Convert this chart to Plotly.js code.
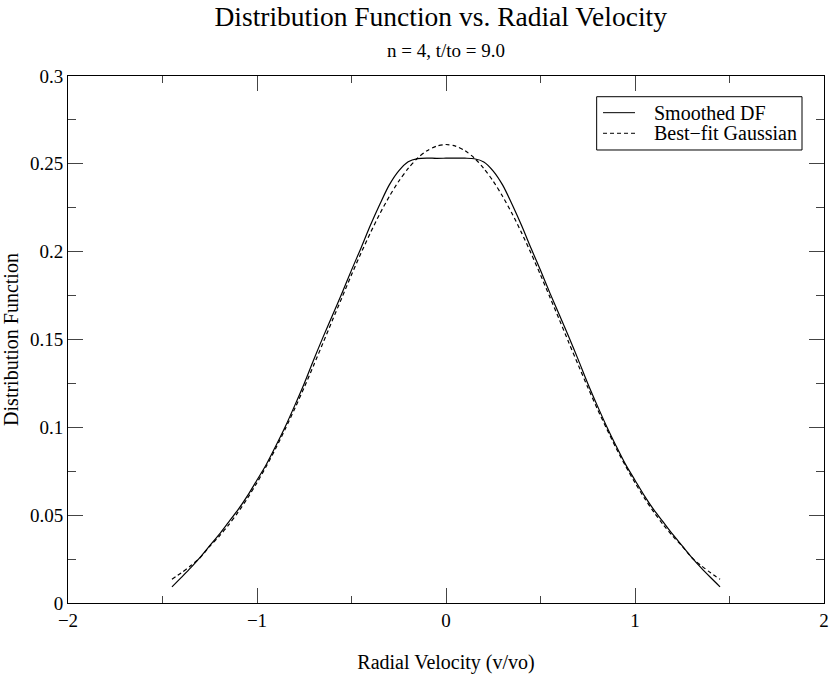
<!DOCTYPE html>
<html>
<head>
<meta charset="utf-8">
<script src="https://cdn.plot.ly/plotly-3.0.1.min.js"></script>
<style>html,body{margin:0;padding:0;background:#fff;}#chart{width:830px;height:674px;}</style>
</head>
<body>
<div id="chart"></div>
<script>
// Radial velocity grid (v/vo)
var velocity = [-1.45,-1.40,-1.35,-1.30,-1.25,-1.20,-1.15,-1.10,-1.05,-1.00,-0.95,-0.90,-0.85,-0.80,-0.75,-0.70,-0.65,-0.60,-0.55,-0.50,-0.45,-0.40,-0.35,-0.30,-0.25,-0.20,-0.15,-0.10,-0.05,0.00,0.05,0.10,0.15,0.20,0.25,0.30,0.35,0.40,0.45,0.50,0.55,0.60,0.65,0.70,0.75,0.80,0.85,0.90,0.95,1.00,1.05,1.10,1.15,1.20,1.25,1.30,1.35,1.40,1.45];

// Smoothed distribution function
var smoothedDF = [0.0092,0.0146,0.0201,0.0261,0.0326,0.0391,0.0461,0.0531,0.0611,0.0700,0.0790,0.0895,0.1005,0.1125,0.1250,0.1385,0.1515,0.1640,0.1765,0.1895,0.2020,0.2150,0.2270,0.2380,0.2460,0.2512,0.2530,0.2533,0.2531,0.2532,0.2533,0.2532,0.2529,0.2511,0.2459,0.2379,0.2269,0.2149,0.2019,0.1894,0.1764,0.1639,0.1514,0.1384,0.1250,0.1125,0.1005,0.0894,0.0789,0.0699,0.0610,0.0530,0.0460,0.0390,0.0325,0.0260,0.0200,0.0145,0.0092];

// Best-fit Gaussian
var gaussianFit = [0.0135,0.0172,0.0213,0.0259,0.0323,0.0380,0.0445,0.0517,0.0597,0.0685,0.0780,0.0882,0.0992,0.1107,0.1228,0.1354,0.1482,0.1612,0.1740,0.1868,0.1991,0.2107,0.2216,0.2314,0.2401,0.2474,0.2533,0.2575,0.2601,0.2610,0.2601,0.2575,0.2533,0.2474,0.2401,0.2314,0.2216,0.2107,0.1991,0.1868,0.1740,0.1612,0.1482,0.1354,0.1228,0.1107,0.0992,0.0882,0.0780,0.0685,0.0597,0.0517,0.0445,0.0380,0.0323,0.0259,0.0213,0.0172,0.0135];

var seriesNames = ["Smoothed DF", "Best\u2212fit Gaussian"];
var chartTitle = "Distribution Function vs. Radial Velocity";
var chartSubtitle = "n = 4, t/to = 9.0";
var xTitle = "Radial Velocity (v/vo)";
var yTitle = "Distribution Function";

var serif = "Liberation Serif, Times New Roman, serif";
var dashes = ["solid", "4px,3px"];

var traces = [
  {x: velocity, y: smoothedDF, type: "scatter", mode: "lines", name: seriesNames[0],
   line: {color: "#000", width: 1.2, dash: dashes[0], shape: "spline", smoothing: 0.8}},
  {x: velocity, y: gaussianFit, type: "scatter", mode: "lines", name: seriesNames[1],
   line: {color: "#000", width: 1.2, dash: dashes[1], shape: "spline", smoothing: 0.8}}
];

// Compact legend box (legend key drawn in paper coordinates)
var legendBox = {x0: 0.6993, x1: 0.9709, y0: 0.8596, y1: 0.9607};
var legendRows = [0.9304, 0.8913];
var shapes = [
  {type: "rect", xref: "paper", yref: "paper", x0: legendBox.x0, x1: legendBox.x1,
   y0: legendBox.y0, y1: legendBox.y1, line: {color: "#000", width: 1}, fillcolor: "#fff", layer: "above"}
];
var annotations = [
  {text: chartSubtitle, xref: "paper", yref: "paper", x: 0.5, y: 1, yshift: 26,
   showarrow: false, xanchor: "center", yanchor: "middle",
   font: {family: serif, size: 19, color: "#000"}}
];
seriesNames.forEach(function (nm, i) {
  shapes.push({type: "line", xref: "paper", yref: "paper", x0: 0.7077, x1: 0.75,
    y0: legendRows[i], y1: legendRows[i], line: {color: "#000", width: 1, dash: dashes[i]}, layer: "above"});
  annotations.push({text: nm, xref: "paper", yref: "paper", x: 0.7725, y: legendRows[i], yshift: 0,
    showarrow: false, xanchor: "left", yanchor: "middle",
    font: {family: serif, size: 20, color: "#000"}});
});

var layout = {
  width: 830, height: 674,
  margin: {l: 68, r: 6, t: 76, b: 71},
  paper_bgcolor: "#fff", plot_bgcolor: "#fff",
  font: {family: serif, color: "#000", size: 19},
  showlegend: false,
  title: {text: chartTitle, font: {family: serif, size: 27.5, color: "#000"},
          x: 0.531, xanchor: "center", y: 0.975, yanchor: "middle"},
  xaxis: {
    range: [-2, 2], dtick: 1, tick0: 0,
    showgrid: false, zeroline: false,
    showline: true, linecolor: "#000", linewidth: 1, mirror: "allticks",
    ticks: "inside", ticklen: 15, tickwidth: 1, tickcolor: "#444",
    minor: {dtick: 0.5, ticks: "inside", ticklen: 7, tickcolor: "#444", showgrid: false},
    tickfont: {family: serif, size: 19, color: "#000"},
    title: {text: xTitle, font: {family: serif, size: 20, color: "#000"}, standoff: 25}
  },
  yaxis: {
    range: [0, 0.3], dtick: 0.05, tick0: 0,
    showgrid: false, zeroline: false,
    showline: true, linecolor: "#000", linewidth: 1, mirror: "allticks",
    ticks: "inside", ticklen: 15, tickwidth: 1, tickcolor: "#444",
    minor: {dtick: 0.025, ticks: "inside", ticklen: 8, tickcolor: "#444", showgrid: false},
    tickfont: {family: serif, size: 19, color: "#000"},
    title: {text: yTitle, font: {family: serif, size: 20, color: "#000"}, standoff: 6}
  },
  shapes: shapes,
  annotations: annotations
};

Plotly.newPlot("chart", traces, layout, {displayModeBar: false, staticPlot: true});
</script>
</body>
</html>
